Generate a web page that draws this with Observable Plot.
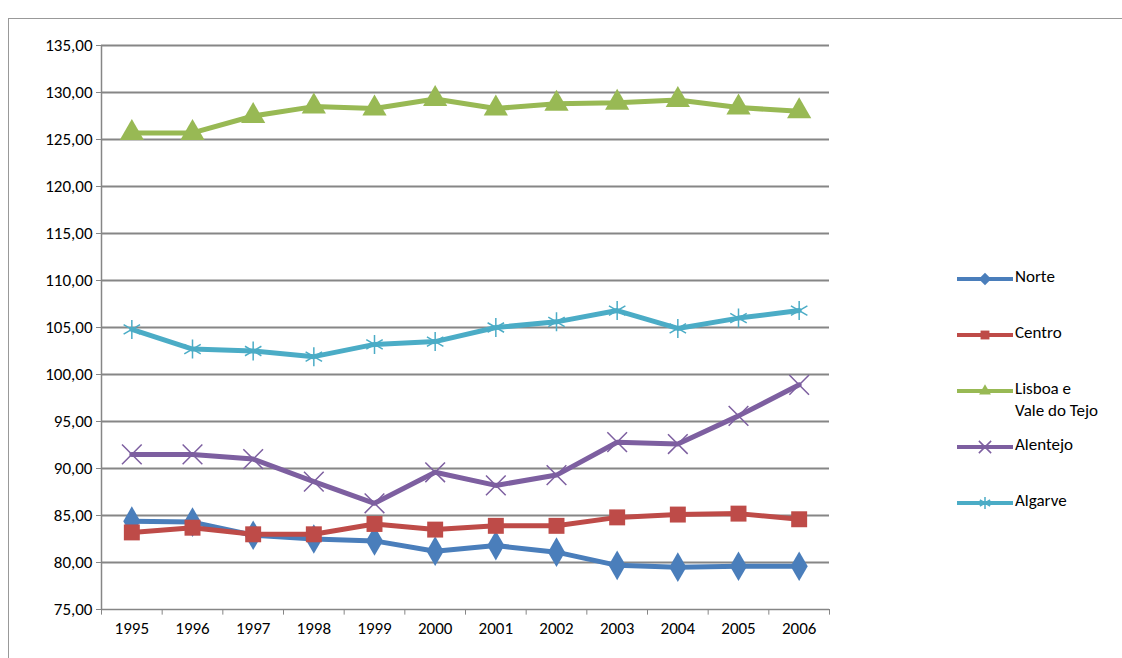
<!DOCTYPE html>
<html><head><meta charset="utf-8">
<script src="https://cdn.jsdelivr.net/npm/d3@7"></script>
<script src="https://cdn.jsdelivr.net/npm/@observablehq/plot@0.6"></script>
<style>
body{margin:0;background:#fff;font-family:Calibri,Carlito,"Liberation Sans",sans-serif;}
#wrap{position:absolute;left:8px;top:18px;width:1114px;height:640px;border-left:1px solid #999;border-top:1px solid #999;}
#chart{position:absolute;left:-8px;top:-18px;}
#legend{position:absolute;left:948px;top:250px;font-size:17px;color:#000;}
.it{position:absolute;left:0;white-space:nowrap;display:flex;align-items:flex-start;}
.it svg{margin-right:2px;margin-top:2px}
</style></head><body>
<div id="wrap"><div id="chart"></div><div id="legend"></div></div>
<script>
const years = [1995,1996,1997,1998,1999,2000,2001,2002,2003,2004,2005,2006];
const norte = [84.4,84.3,82.9,82.5,82.3,81.2,81.8,81.1,79.7,79.5,79.6,79.6];
const centro = [83.2,83.7,83.0,83.0,84.1,83.5,83.9,83.9,84.8,85.1,85.2,84.6];
const lisboa = [125.7,125.7,127.5,128.5,128.3,129.3,128.3,128.8,128.9,129.2,128.4,128.0];
const alentejo = [91.5,91.5,91.0,88.6,86.3,89.6,88.2,89.3,92.8,92.6,95.6,98.9];
const algarve = [104.8,102.7,102.5,101.9,103.2,103.5,105.0,105.6,106.8,104.9,106.0,106.8];
const yTicks = d3.range(75,136,5);

const series = [
  {name:"Norte", values:norte, color:"#4a7ebb", symbol:"diamond", r:9, filled:true},
  {name:"Centro", values:centro, color:"#be4b48", symbol:"square", r:9, filled:true},
  {name:"Lisboa e\nVale do Tejo", values:lisboa, color:"#98b954", symbol:"triangle", r:9, filled:true},
  {name:"Alentejo", values:alentejo, color:"#7d5fa0", symbol:"times", r:9, filled:false},
  {name:"Algarve", values:algarve, color:"#4bacc6", symbol:"asterisk", r:9, filled:false}
];
const data = series.flatMap(s => s.values.map((v,i) => ({year:years[i], value:v, name:s.name})));
const fmt = d => d.toFixed(2).replace(".", ",");

const marks = [
  Plot.ruleY(yTicks.slice(1), {stroke:"#868686", strokeWidth:2}),
  Plot.ruleY([75], {stroke:"#868686", strokeWidth:1.5}),
  Plot.ruleX([years[0]-0.5], {y1:75, y2:135, stroke:"#868686", strokeWidth:1.5}),
  Plot.axisY({ticks:yTicks, tickFormat:fmt, tickSize:5, stroke:"#868686", fontSize:17, tickPadding:4, label:null}),
  Plot.axisX({ticks:years, tickFormat:d=>String(d), tickSize:0, fontSize:17, tickPadding:12, label:null}),
  Plot.ruleX(d3.range(1994.5, 2007, 1), {y1:75, y2:74.4, stroke:"#868686"})
];
for (const s of series) {
  const d = data.filter(e => e.name === s.name);
  marks.push(Plot.line(d, {x:"year", y:"value", stroke:s.color, strokeWidth:5}));
  marks.push(Plot.dot(d, {x:"year", y:"value", symbol:s.symbol, r:s.r,
    fill: s.filled ? s.color : "none", stroke:s.color, strokeWidth: s.filled ? 0 : 1.5}));
}

const chart = Plot.plot({
  width:860, height:640,
  marginLeft:100, marginRight:32, marginTop:44, marginBottom:32,
  style:{fontFamily:"Calibri,Carlito,'Liberation Sans',sans-serif", fontSize:"17px", color:"#000", background:"transparent"},
  x:{type:"linear", domain:[1994.5, 2006.5], axis:null},
  y:{domain:[75,135], axis:null},
  marks
});
d3.select("#chart").append(() => chart);

const symMap = {diamond:d3.symbolDiamond2, square:d3.symbolSquare2, triangle:d3.symbolTriangle2, times:d3.symbolTimes, asterisk:d3.symbolAsterisk};
const lg = d3.select("#legend");
const tops = [0, 56, 112, 168, 224];
series.forEach((s,i) => {
  const it = lg.append("div").attr("class","it").style("top", tops[i]+"px");
  const sv = it.append("svg").attr("width",56).attr("height",16);
  sv.append("line").attr("x1",0).attr("x2",56).attr("y1",8).attr("y2",8).attr("stroke",s.color).attr("stroke-width",4);
  sv.append("path").attr("d", d3.symbol(symMap[s.symbol], 100)()).attr("transform","translate(28,8)")
    .attr("fill", s.filled ? s.color : "none").attr("stroke", s.color).attr("stroke-width", s.filled?0:1.5);
  it.append("div").style("line-height","22px").style("margin-top","-3px").html(s.name.replace("\n","<br>"));
});
</script>
</body></html>
